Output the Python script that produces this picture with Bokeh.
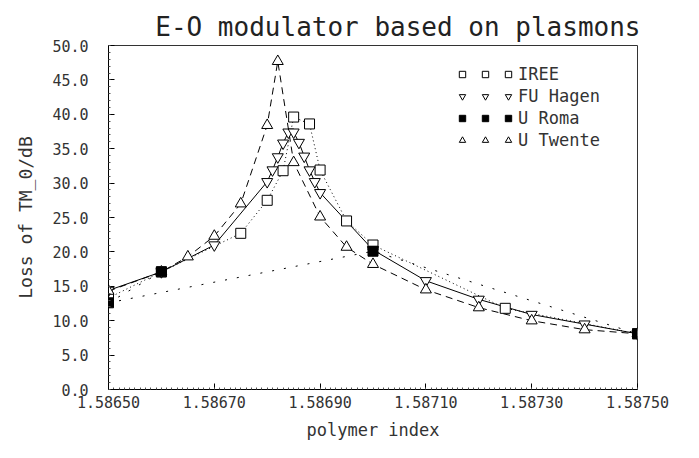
from bokeh.plotting import figure
from bokeh.models import (Range1d, FixedTicker, PrintfTickFormatter,
                          Legend, LegendItem)
from bokeh.embed import file_html
from bokeh.resources import INLINE

# ---- data ----
x_iree = [1.58650, 1.58660, 1.58675, 1.58680, 1.58683, 1.58685, 1.58688,
          1.58690, 1.58695, 1.58700, 1.58725, 1.58750]
y_iree = [13.3, 17.1, 22.7, 27.5, 31.8, 39.6, 38.6, 31.9, 24.5, 21.0, 11.8, 8.1]

x_fu = [1.58650, 1.58660, 1.58670, 1.58680, 1.58681, 1.58682, 1.58683, 1.58684,
        1.58685, 1.58686, 1.58687, 1.58688, 1.58689, 1.58690, 1.58700, 1.58710,
        1.58720, 1.58730, 1.58740, 1.58750]
y_fu = [14.4, 17.1, 21.0, 30.2, 31.9, 33.8, 35.8, 37.4, 37.4, 35.9, 33.9, 31.9,
        30.2, 28.6, 20.3, 15.8, 13.1, 10.9, 9.5, 8.1]

x_roma = [1.58660, 1.58650, 1.58700, 1.58750]
y_roma = [17.1, 12.6, 20.1, 8.1]

x_tw = [1.58650, 1.58660, 1.58665, 1.58670, 1.58675, 1.58680, 1.58682, 1.58685,
        1.58690, 1.58695, 1.58700, 1.58710, 1.58720, 1.58730, 1.58740, 1.58750]
y_tw = [14.3, 17.1, 19.3, 22.3, 27.0, 38.4, 47.7, 33.0, 25.1, 20.7, 18.2, 14.5,
        11.9, 10.0, 8.7, 8.1]

series_names = ["IREE", "FU Hagen", "U Roma", "U Twente"]
x_ticks = [1.58650, 1.58670, 1.58690, 1.58710, 1.58730, 1.58750]
y_ticks = [0.0, 5.0, 10.0, 15.0, 20.0, 25.0, 30.0, 35.0, 40.0, 45.0, 50.0]

FONT = "DejaVu Sans Mono"
INK = "#333333"

p = figure(width=683, height=442, output_backend="svg", toolbar_location=None,
           x_range=Range1d(1.58650, 1.58750), y_range=Range1d(0, 50),
           min_border_left=108, min_border_right=46, min_border_top=45,
           min_border_bottom=50,
           title="E-O modulator based on plasmons")
p.title.text_font = FONT
p.title.text_font_size = "26px"
p.title.text_font_style = "normal"
p.title.text_color = "#222222"
p.title.align = "right"
p.title.vertical_align = "top"
p.title.text_line_height = 0.7
p.title.standoff = 4
p.title.offset = -3

p.grid.visible = False
p.outline_line_color = "#333333"
p.background_fill_color = "white"
p.border_fill_color = "white"

# axes
xmin = [round(1.58650 + i * 1e-5, 5) for i in range(101)]
ymin = [float(i) for i in range(51)]
p.xaxis.ticker = FixedTicker(ticks=x_ticks, minor_ticks=xmin)
p.yaxis.ticker = FixedTicker(ticks=y_ticks, minor_ticks=ymin)
p.xaxis.formatter = PrintfTickFormatter(format="%.5f")
p.yaxis.formatter = PrintfTickFormatter(format="%.1f")
for ax in (p.xaxis[0], p.yaxis[0]):
    ax.major_tick_in = 6
    ax.major_tick_out = 0
    ax.minor_tick_in = 2
    ax.minor_tick_out = 0
    ax.axis_line_color = "black"
    ax.major_tick_line_color = "black"
    ax.minor_tick_line_color = "#555555"
    ax.major_label_text_font = FONT
    ax.major_label_text_font_size = "15px"
    ax.major_label_text_color = INK
    ax.axis_label_text_font = FONT
    ax.axis_label_text_font_size = "17px"
    ax.axis_label_text_font_style = "normal"
    ax.axis_label_text_color = INK
p.yaxis.axis_label_text_font_size = "18px"
p.xaxis.axis_label = "polymer index"
p.yaxis.axis_label = "Loss of TM_0/dB"
p.xaxis.major_label_standoff = 6
p.yaxis.major_label_standoff = 20
p.xaxis.axis_label_standoff = 9
p.yaxis.axis_label_standoff = 13

# lines
p.line(x_iree, y_iree, line_color="black", line_width=1, line_dash="1 3")
p.line(x_fu, y_fu, line_color="black", line_width=1)
p.line(x_roma, y_roma, line_color="black", line_width=1, line_dash="2 10")
p.line(x_tw, y_tw, line_color="black", line_width=1, line_dash="7 5")

# markers
s_iree = p.scatter(x_iree, y_iree, marker="square", size=10, fill_color="white",
                   line_color="black", line_width=1)
s_fu = p.scatter(x_fu, y_fu, marker="inverted_triangle", size=11, fill_color="white",
                 line_color="black", line_width=1)
s_tw = p.scatter(x_tw, y_tw, marker="triangle", size=11, fill_color="white",
                 line_color="black", line_width=1)
s_roma = p.scatter(x_roma, y_roma, marker="square", size=10, fill_color="black",
                   line_color="black", line_width=1)
renderers = [s_iree, s_fu, s_roma, s_tw]

def make_legend(xloc, labels):
    lg = Legend(items=[LegendItem(label=l, renderers=[r]) for l, r in zip(labels, renderers)],
                location=(xloc, 239), border_line_color=None, background_fill_alpha=0,
                padding=0, margin=0, spacing=2, glyph_height=20, glyph_width=16,
                label_height=20, label_standoff=2, label_text_font=FONT,
                label_text_font_size="17px", label_text_color=INK)
    p.add_layout(lg)

make_legend(346, [" "] * 4)
make_legend(369, [" "] * 4)
make_legend(392, series_names)

open("out.html", "w").write(file_html(p, INLINE))
